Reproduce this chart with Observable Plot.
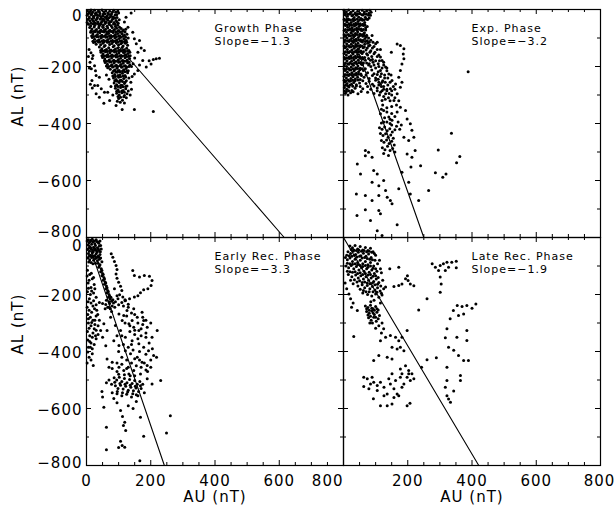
<!DOCTYPE html>
<html><head><meta charset="utf-8">
<script src="https://cdn.jsdelivr.net/npm/d3@7"></script>
<script src="https://cdn.jsdelivr.net/npm/@observablehq/plot@0.6"></script>
<style>
body{margin:0;background:#fff}
#chart svg text{letter-spacing:1px}
</style></head><body><div id="chart"></div>
<script>
// AU vs AL (nT) samples for each substorm phase, as [AU, AL] pairs
const growth = [
[3,-4],[8,-12],[14,-2],[19,-9],[25,-3],[31,-11],[37,-5],[42,-14],[48,-2],[54,-9],[60,-4],[66,-12],[72,-6],[78,-15],[85,-3],[91,-10],[97,-6],
[5,-15],[11,-7],[17,-14],[22,-28],[28,-13],[34,-20],[40,-8],[45,-30],[51,-22],[57,-15],[63,-31],[69,-17],[75,-25],[81,-9],[88,-30],[94,-18],[100,-12],
[2,-20],[9,-26],[15,-18],[22,-24],[28,-19],[34,-28],[40,-21],[46,-25],[52,-17],[58,-27],[64,-22],[70,-29],[76,-20],[83,-26],[89,-19],[95,-28],
[2,-46],[8,-31],[14,-48],[20,-39],[26,-47],[33,-32],[39,-52],[46,-46],[52,-33],[58,-44],[64,-34],[70,-48],[77,-42],[83,-32],[89,-52],[95,-44],[102,-36],
[4,-35],[11,-40],[17,-33],[23,-42],[30,-36],[36,-44],[43,-34],[49,-41],[55,-37],[61,-45],[67,-38],[73,-43],[80,-35],[86,-46],[92,-39],[99,-48],
[6,-52],[13,-57],[20,-50],[26,-55],[33,-49],[39,-58],[45,-51],[52,-55],[58,-49],[64,-59],[71,-53],[77,-57],[84,-51],[90,-60],[97,-55],[103,-62],
[10,-63],[17,-68],[24,-61],[31,-70],[38,-64],[45,-72],[52,-62],[59,-69],[66,-65],[73,-73],[80,-63],[87,-70],[94,-66],[101,-74],[108,-67],[115,-72],[122,-69],
[14,-75],[21,-77],[28,-74],[35,-78],[42,-75],[49,-77],[56,-74],[63,-78],[70,-75],[77,-77],[84,-74],[91,-78],[98,-75],[105,-80],[112,-76],[120,-79],
[13,-80],[20,-86],[27,-78],[34,-88],[41,-82],[48,-90],[55,-79],[62,-87],[69,-83],[76,-91],[83,-81],[90,-88],[97,-84],[104,-92],[111,-85],[118,-90],[126,-87],
[16,-93],[23,-95],[30,-92],[37,-96],[44,-93],[51,-95],[58,-92],[65,-96],[72,-93],[79,-95],[86,-92],[93,-96],[100,-93],[107,-97],[114,-94],[122,-97],
[18,-98],[25,-104],[32,-96],[39,-106],[46,-100],[53,-108],[60,-97],[67,-105],[74,-101],[81,-109],[88,-99],[95,-106],[102,-102],[109,-110],[116,-103],[123,-108],[130,-100],
[20,-111],[27,-113],[34,-110],[41,-114],[48,-111],[55,-113],[62,-110],[69,-114],[76,-111],[83,-113],[90,-110],[97,-114],[104,-111],[111,-116],[118,-112],[125,-115],
[22,-116],[30,-122],[37,-114],[44,-124],[51,-118],[58,-126],[65,-115],[72,-123],[79,-119],[86,-127],[93,-117],[100,-124],[107,-120],[114,-128],[121,-118],[128,-125],
[40,-132],[48,-138],[55,-130],[62,-140],[69,-134],[76,-142],[83,-131],[90,-139],[97,-135],[104,-143],[111,-133],[118,-141],[125,-136],[132,-144],
[44,-144],[51,-146],[58,-143],[65,-147],[72,-144],[79,-146],[86,-143],[93,-147],[100,-144],[107,-146],[114,-143],[121,-147],[128,-145],[135,-150],
[45,-150],[52,-156],[59,-148],[66,-158],[73,-152],[80,-160],[87,-149],[94,-157],[101,-153],[108,-161],[115,-151],[122,-159],[129,-154],[136,-162],
[48,-162],[55,-164],[62,-161],[69,-165],[76,-162],[83,-164],[90,-161],[97,-165],[104,-162],[111,-164],[118,-161],[125,-165],[132,-163],
[50,-168],[57,-174],[64,-166],[71,-176],[78,-170],[85,-178],[92,-167],[99,-175],[106,-171],[113,-179],[120,-169],[127,-177],[134,-172],
[56,-180],[63,-182],[70,-179],[77,-183],[84,-180],[91,-182],[98,-179],[105,-183],[112,-180],[119,-182],[126,-180],[133,-184],
[58,-186],[65,-192],[72,-184],[79,-194],[86,-188],[93,-196],[100,-185],[107,-193],[114,-189],[121,-197],[128,-187],[135,-194],
[62,-198],[69,-200],[76,-197],[83,-201],[90,-198],[97,-200],[104,-197],[111,-201],[118,-198],[125,-202],[132,-200],
[66,-204],[74,-210],[81,-202],[88,-212],[95,-206],[102,-214],[109,-203],[116,-211],[123,-207],[130,-215],
[84,-216],[91,-218],[98,-215],[105,-219],[112,-216],[119,-218],[126,-216],
[8,-140],[14,-152],[6,-165],[18,-172],[11,-185],[20,-161],[15,-208],[25,-197],[30,-232],[17,-249],[40,-238],[35,-267],[25,-267],[46,-278],[30,-296],[56,-290],[40,-308],[54,-329],[72,-319],[66,-290],[9,-205],[28,-215],[12,-262],[18,-275],
[80,-222],[88,-228],[96,-220],[104,-230],[112,-224],[120,-232],[128,-222],[84,-240],[92,-246],[100,-238],[108,-248],[116,-242],[124,-250],[132,-240],
[82,-233],[90,-235],[98,-232],[106,-236],[114,-233],[122,-237],[88,-250],[96,-252],[104,-249],[112,-253],[120,-255],[90,-268],[98,-270],[106,-267],[114,-271],[122,-270],
[86,-258],[94,-264],[102,-256],[110,-266],[118,-260],[126,-268],[90,-276],[98,-282],[106,-274],[114,-284],[122,-278],[130,-286],
[94,-287],[102,-289],[110,-286],[118,-290],[98,-305],[106,-308],[116,-306],[105,-325],[118,-328],[96,-322],
[94,-294],[102,-300],[110,-292],[118,-302],[126,-296],[100,-312],[112,-318],[124,-310],[111,-351],[92,-337],[82,-300],[76,-270],[70,-245],[62,-230],
[139,-12],[123,-27],[118,-44],[129,-62],[144,-80],[149,-103],[165,-109],[155,-120],[180,-144],[170,-135],[160,-150],[175,-179],[217,-173],[227,-171],
[201,-191],[186,-202],[160,-214],[149,-226],[145,-190],[150,-170],[140,-200],[195,-180],[208,-175],[165,-195],[142,-235],[138,-255],[140,-280],[136,-300],
[149,-351],[208,-358]
];
const expansion = [
[2,-3],[9,-8],[16,-2],[23,-10],[30,-4],[37,-12],[44,-6],[51,-14],[58,-3],[65,-9],[72,-5],[79,-13],[82,-3],[86,-10],[84,-20],[80,-30],
[6,-15],[14,-17],[21,-14],[29,-18],[36,-15],[43,-17],[50,-14],[57,-18],[64,-15],[71,-17],[78,-20],
[5,-18],[12,-24],[19,-16],[26,-22],[33,-28],[40,-20],[47,-26],[54,-32],[61,-19],[68,-27],[75,-35],
[2,-34],[8,-36],[15,-33],[22,-37],[29,-34],[36,-36],[43,-33],[50,-37],[57,-34],[64,-36],[71,-33],
[3,-38],[10,-44],[17,-36],[24,-46],[31,-40],[38,-48],[45,-42],[52,-50],[59,-38],[66,-46],
[4,-52],[11,-54],[18,-51],[25,-55],[32,-52],[39,-54],[46,-51],[53,-55],[60,-52],[67,-54],[74,-60],
[6,-56],[13,-62],[20,-54],[27,-64],[34,-58],[41,-66],[48,-60],[55,-68],[62,-56],[69,-64],
[6,-70],[13,-72],[20,-69],[27,-73],[34,-70],[41,-72],[48,-69],[55,-73],[62,-70],[69,-72],
[2,-74],[9,-80],[16,-72],[23,-82],[30,-76],[37,-84],[44,-78],[51,-86],[58,-74],[65,-82],[72,-90],
[2,-89],[8,-91],[15,-88],[22,-92],[29,-89],[36,-91],[43,-88],[50,-92],[57,-89],[64,-91],[71,-96],
[4,-94],[11,-100],[18,-92],[25,-102],[32,-96],[39,-104],[46,-98],[53,-106],[60,-94],[67,-102],[74,-110],
[5,-108],[12,-110],[19,-107],[26,-111],[33,-108],[40,-110],[47,-107],[54,-111],[61,-108],[68,-112],[80,-115],
[3,-114],[10,-120],[17,-112],[24,-122],[31,-116],[38,-124],[45,-118],[52,-126],[59,-114],[66,-122],[78,-128],
[2,-128],[9,-130],[16,-127],[23,-131],[30,-128],[37,-130],[44,-127],[51,-131],[58,-128],[65,-132],[74,-135],
[5,-134],[12,-140],[19,-132],[26,-142],[33,-136],[40,-144],[47,-138],[54,-146],[61,-134],[70,-142],[82,-150],
[6,-148],[13,-150],[20,-147],[27,-151],[34,-148],[41,-150],[48,-147],[55,-151],[62,-148],[72,-155],
[2,-154],[9,-160],[16,-152],[23,-162],[30,-156],[37,-164],[44,-158],[51,-166],[58,-154],[66,-168],[78,-172],[88,-165],
[3,-168],[10,-170],[17,-167],[24,-171],[31,-168],[38,-170],[45,-167],[52,-171],[59,-168],[68,-178],[84,-178],
[4,-174],[11,-180],[18,-172],[25,-182],[32,-176],[39,-184],[46,-178],[53,-186],[60,-174],[72,-188],[92,-185],
[6,-188],[13,-190],[20,-187],[27,-191],[34,-188],[41,-190],[48,-187],[55,-191],[62,-188],[78,-195],
[3,-194],[10,-200],[17,-192],[24,-202],[31,-196],[38,-204],[45,-198],[52,-206],[59,-194],[68,-208],[85,-200],[100,-205],
[2,-208],[9,-210],[16,-207],[23,-211],[30,-208],[37,-210],[44,-207],[51,-211],[58,-208],[88,-212],
[5,-214],[12,-220],[19,-212],[26,-222],[33,-216],[40,-224],[47,-218],[54,-226],[62,-214],[75,-222],[95,-225],[108,-218],
[5,-228],[12,-230],[19,-227],[26,-231],[33,-228],[40,-230],[47,-227],[56,-232],[70,-230],[90,-232],[105,-228],
[2,-234],[9,-240],[16,-232],[23,-242],[30,-236],[37,-244],[44,-238],[52,-246],[64,-238],[80,-242],[100,-240],[115,-235],
[2,-248],[8,-250],[15,-247],[22,-251],[29,-248],[36,-250],[45,-247],[60,-250],[80,-252],[100,-248],
[4,-254],[11,-260],[18,-252],[25,-262],[32,-256],[40,-264],[50,-258],[70,-260],[90,-262],[110,-255],[122,-250],
[6,-266],[13,-268],[20,-265],[29,-269],[40,-268],[52,-270],[75,-270],[95,-268],[115,-262],
[3,-274],[10,-280],[17,-272],[26,-284],[36,-276],[60,-278],[85,-280],[105,-275],[125,-270],[6,-294],[14,-300],[22,-292],[45,-296],[95,-295],[115,-290],[135,-285],
[3,-286],[9,-288],[16,-285],[30,-289],[55,-288],[75,-290],[105,-285],[125,-280],
[63,-85],[89,-91],[105,-115],[95,-130],[115,-140],[110,-160],[115,-167],[125,-185],[131,-202],[115,-214],[141,-226],[151,-249],[162,-261],[146,-278],[131,-296],
[120,-319],[167,-296],[157,-319],[128,-240],[138,-265],[118,-270],[150,-300],[140,-310],[125,-305],[98,-150],[108,-190],[120,-205],[135,-215],[148,-230],[130,-255],
[70,-95],[78,-100],[85,-108],[92,-115],[100,-120],[75,-118],[82,-125],[90,-135],[105,-140],[85,-145],[95,-155],[105,-165],[75,-160],[90,-175],[100,-180],[112,-180],
[80,-190],[95,-195],[110,-200],[125,-195],[135,-205],[118,-225],[128,-230],[138,-240],[108,-245],[120,-255],[145,-255],[155,-270],[110,-265],[135,-280],[150,-285],
[160,-280],[120,-285],[142,-295],[130,-315],[145,-320],[112,-300],[160,-310],[172,-320],[165,-335],[150,-340],[135,-345],[122,-335],[118,-350],[135,-360],[150,-365],
[160,-375],[128,-380],[145,-385],[170,-395],[180,-405],[125,-395],[150,-405],[165,-410],[175,-420],
[167,-121],[177,-126],[188,-138],[186,-156],[188,-173],[182,-191],[177,-214],[172,-238],[182,-255],[177,-273],[149,-150],[120,-179],
[115,-366],[125,-354],[141,-377],[151,-389],[167,-360],[177,-343],[193,-354],[198,-384],[208,-401],[213,-424],[219,-448],[203,-460],[188,-448],[223,-495],[213,-518],[198,-507],
[112,-415],[120,-420],[128,-412],[136,-425],[144,-418],[152,-430],[160,-422],[115,-435],[123,-442],[131,-436],[139,-448],[147,-440],[155,-452],
[118,-460],[126,-466],[134,-458],[142,-470],[150,-462],[158,-475],[121,-485],[129,-492],[137,-480],[145,-495],[153,-488],[125,-505],[140,-512],[160,-500],[135,-395],[145,-400],[118,-398],
[43,-542],[53,-577],[68,-513],[78,-501],[89,-518],[68,-495],[94,-565],[105,-577],[89,-606],[125,-600],[110,-618],[131,-635],
[40,-647],[68,-653],[89,-670],[110,-653],[136,-659],[151,-682],[68,-703],[84,-740],[110,-705],[115,-717],[42,-723],[105,-776],[120,-793],[167,-755],[208,-647],[203,-606],[182,-571],[172,-629],[146,-670],
[388,-218],[336,-434],[295,-493],[362,-516],[352,-538],[319,-577],[309,-589],[286,-573],[265,-635],[234,-670],[210,-553],[240,-548]
];
const earlyRecovery = [
[2,-12],[8,-18],[14,-10],[20,-16],[26,-22],[32,-14],[38,-20],[44,-28],[4,-26],[10,-32],[16,-24],[22,-34],[28,-28],[34,-36],[40,-30],[46,-40],
[6,-8],[12,-14],[18,-6],[24,-12],[30,-8],[36,-16],[42,-12],[7,-38],[13,-36],[19,-44],[25,-38],[31,-46],[37,-40],[43,-50],
[3,-42],[9,-48],[15,-40],[21,-50],[27,-44],[33,-52],[39,-46],[6,-56],[12,-62],[18,-54],[24,-64],[30,-58],[36,-66],[42,-60],[4,-72],[10,-78],[16,-70],[22,-80],[28,-74],[34,-82],[40,-76],[48,-85],
[8,-66],[14,-64],[20,-68],[26,-66],[32,-70],[38,-68],[44,-72],[7,-86],[14,-88],[20,-92],[28,-90],
[36,-90],[42,-96],[38,-104],[46,-110],[44,-120],[50,-126],[48,-134],[54,-140],[52,-150],[58,-156],[56,-164],[62,-170],[60,-180],[66,-186],[64,-194],[70,-200],[68,-210],[74,-216],[78,-224],[72,-232],[80,-240],[84,-230],[62,-220],[66,-245],[58,-250],
[40,-100],[48,-116],[52,-130],[56,-146],[60,-160],[64,-176],[68,-190],[72,-205],[76,-210],[82,-218],[70,-225],[60,-235],[74,-250],[88,-245],[78,-260],
[77,-57],[82,-69],[87,-84],[92,-98],[95,-112],[92,-128],[95,-143],[100,-157],[106,-171],[110,-186],[103,-201],[113,-209],[98,-215],[87,-180],
[144,-116],[149,-133],[165,-139],[180,-133],[196,-136],[204,-151],[201,-168],[191,-180],[178,-183],[168,-194],[160,-204],[149,-209],[134,-215],[120,-218],
[5,-225],[14,-230],[22,-222],[30,-236],[40,-228],[50,-232],[90,-225],[100,-236],[110,-228],[120,-222],[130,-234],
[3,-115],[10,-130],[18,-145],[5,-160],[14,-175],[24,-165],[3,-190],[12,-200],[22,-195],[30,-210],[2,-245],[8,-255],[16,-262],[25,-250],[4,-270],[12,-280],[20,-290],[30,-275],
[6,-300],[14,-310],[26,-305],[3,-330],[10,-345],[20,-335],[30,-325],[4,-360],[14,-370],[18,-390],[4,-402],[21,-449],[18,-408],[8,-420],[12,-385],[35,-270],[40,-290],
[2,-135],[8,-150],[15,-125],[22,-140],[6,-178],[16,-188],[26,-180],[9,-215],[20,-240],[32,-255],[6,-285],[16,-298],[26,-290],[36,-310],[8,-318],[18,-350],[28,-345],
[10,-365],[24,-375],[6,-385],[14,-430],[2,-440],[30,-355],[36,-340],[24,-320],
[95,-204],[121,-221],[126,-256],[147,-250],[158,-280],[173,-262],[178,-291],[189,-315],[204,-350],[220,-326],[111,-291],[132,-303],[147,-315],[163,-326],[106,-326],[121,-350],
[142,-362],[163,-373],[178,-385],[193,-397],[209,-414],[218,-420],[85,-362],[101,-379],[121,-397],[137,-408],[158,-420],[173,-438],[189,-449],[64,-426],[80,-438],[101,-455],
[116,-467],[132,-479],[147,-467],[168,-479],[189,-496],[204,-514],[44,-326],[64,-326],[54,-303],[75,-280],[69,-245],[90,-309],[101,-268],[116,-274],[142,-291],
[115,-240],[130,-245],[140,-265],[125,-275],[150,-270],[160,-300],[175,-305],[185,-335],[170,-345],[150,-340],[135,-330],[110,-345],[95,-345],[130,-385],[145,-395],
[165,-400],[185,-410],[200,-430],[110,-420],[125,-430],[140,-440],[155,-450],[170,-455],[185,-465],[95,-440],[80,-460],[70,-455],[130,-455],[60,-380],[50,-350],
[120,-300],[135,-310],[150,-325],[170,-320],[185,-350],[195,-370],[160,-355],[140,-375],[115,-375],[100,-400],[150,-425],[165,-430],[180,-440],[110,-445],[125,-460],
[95,-470],[205,-390],[175,-280],[185,-290],[200,-300],
[86,-492],[94,-500],[102,-490],[110,-505],[118,-495],[126,-510],[134,-498],[142,-512],[150,-502],[158,-515],[166,-505],[90,-520],[98,-530],[106,-518],[114,-532],[122,-522],
[130,-536],[138,-525],[146,-538],[154,-528],[162,-540],[95,-548],[110,-555],[125,-550],[140,-560],[155,-552],[70,-500],[78,-515],[62,-510],[80,-545],[170,-530],[180,-545],[175,-515],
[88,-508],[104,-512],[120,-515],[136,-518],[152,-522],[168,-520],[96,-540],[112,-545],[128,-542],[144,-548],[160,-555],[100,-480],[118,-482],[136,-485],[150,-485],
[54,-596],[62,-666],[62,-745],[106,-607],[119,-648],[122,-677],[106,-715],[111,-730],[119,-736],[168,-631],[178,-697],[166,-783],[249,-686],[261,-625],[231,-502],
[130,-590],[145,-600],[95,-580],[85,-565],[155,-575],[112,-628],[115,-660],[100,-737],[190,-470],[200,-455],[50,-560],[48,-540]
];
const lateRecovery = [
[20,-30],[28,-36],[36,-28],[44,-40],[52,-32],[60,-44],[68,-35],[76,-46],[84,-38],[92,-50],[14,-50],[22,-56],[30,-48],[38,-60],[46,-52],[54,-64],[62,-55],[70,-66],[78,-58],[86,-70],[100,-62],
[24,-42],[32,-44],[40,-46],[48,-44],[56,-48],[64,-46],[72,-50],[80,-48],[88,-52],[96,-56],
[10,-62],[18,-64],[26,-66],[34,-62],[42,-68],[50,-66],[58,-72],[66,-70],[74,-74],[82,-76],[90,-78],[98,-80],
[6,-70],[12,-78],[20,-72],[28,-84],[36,-76],[44,-88],[52,-80],[60,-92],[68,-84],[76,-96],[84,-88],[94,-100],[106,-92],[112,-80],
[12,-90],[20,-92],[28,-94],[36,-92],[44,-96],[52,-98],[60,-102],[68,-98],[76,-104],[84,-100],[92,-108],[100,-110],
[8,-100],[16,-106],[24,-98],[32,-110],[40,-102],[48,-114],[56,-106],[64,-118],[72,-110],[80,-122],[88,-114],[96,-126],[104,-118],[118,-124],
[12,-118],[20,-120],[28,-122],[36,-120],[44,-126],[52,-124],[60,-130],[68,-126],[76,-132],[84,-130],[92,-136],[100,-134],[108,-140],
[15,-130],[26,-138],[38,-132],[46,-142],[54,-134],[62,-146],[70,-138],[78,-150],[86,-142],[94,-154],[102,-146],[110,-158],[122,-150],
[22,-150],[34,-148],[42,-156],[50,-152],[58,-158],[66,-156],[74,-160],[82,-162],[90,-160],[98,-166],[106,-164],[116,-170],
[30,-162],[45,-170],[58,-166],[66,-176],[74,-168],[82,-180],[90,-172],[98,-184],[106,-176],[114,-188],[125,-180],[60,-195],[75,-200],[88,-205],[100,-198],[110,-210],[120,-202],
[52,-182],[62,-186],[70,-190],[80,-190],[92,-190],[104,-192],[118,-196],
[17,-198],[22,-215],[30,-230],[25,-245],[43,-256],[32,-347],[10,-180],[5,-160],
[68,-240],[76,-246],[84,-238],[92,-250],[100,-242],[108,-254],[72,-260],[80,-266],[88,-258],[96,-270],[104,-262],[112,-274],[78,-282],[86,-290],[94,-280],[102,-294],
[72,-250],[80,-255],[88,-248],[96,-255],[104,-250],[76,-272],[84,-276],[92,-265],[100,-280],[108,-285],[90,-300],[82,-300],
[85,-225],[95,-220],[115,-230],[120,-300],[110,-310],[100,-318],[125,-320],[118,-335],
[115,-110],[144,-110],[172,-104],[157,-172],[172,-168],[182,-163],[193,-145],[201,-151],[208,-163],[219,-169],[199,-134],[131,-174],
[276,-92],[286,-104],[296,-116],[301,-98],[311,-92],[322,-87],[327,-104],[317,-116],[337,-87],[351,-83],[351,-106],[301,-139],[304,-163],[301,-192],[260,-215],[234,-254],
[354,-239],[369,-242],[384,-239],[400,-248],[412,-233],[342,-256],[358,-274],[374,-268],[332,-285],[322,-320],[384,-326],[317,-352],[327,-385],[343,-396],[358,-414],[374,-432],
[389,-432],[384,-361],[353,-350],[260,-429],[289,-422],[322,-455],[364,-484],[364,-502],[343,-539],[322,-502],[317,-525],[322,-555],[333,-578],[327,-567],[243,-455],
[115,-362],[131,-350],[146,-344],[162,-350],[172,-362],[182,-350],[198,-326],[151,-385],[167,-391],[177,-385],[188,-397],[136,-420],[151,-426],[94,-432],[110,-414],
[177,-461],[193,-450],[203,-467],[213,-478],[182,-478],[219,-496],
[63,-490],[74,-496],[84,-514],[63,-523],[79,-531],[94,-508],[105,-519],[115,-508],[126,-525],[141,-496],[151,-478],[146,-514],[136,-549],[157,-531],[167,-549],[182,-525],
[188,-514],[198,-490],[203,-478],[208,-502],[93,-566],[115,-590],[136,-590],[151,-584],[172,-555],[198,-590],[207,-582],[157,-561],[126,-555],[105,-537],[89,-490],[162,-502],[177,-490]
];

const phaseNames = ["Growth Phase", "Exp. Phase", "Early Rec. Phase", "Late Rec. Phase"];
const slopes = [-1.3, -3.2, -3.3, -1.9];
const samples = [growth, expansion, earlyRecovery, lateRecovery];

const xTicks = [0, 200, 400, 600, 800];
const yTicks = [0, -200, -400, -600, -800];
const xMinorStep = 50, yMinorStep = 100;

const auDomain = [0, 800], alDomain = [-800, 0];

// one panel per phase: two columns, two rows
const phases = phaseNames.map((name, i) => ({name, slope: slopes[i], fx: i % 2, fy: Math.floor(i / 2)}));
const points = samples.flatMap((pts, i) => pts.map(([au, al]) => ({au, al, fx: phases[i].fx, fy: phases[i].fy})));
// fitted line AL = slope * AU, from the origin to the bottom of the panel
const fits = phases.flatMap(p => [
  {phase: p.name, fx: p.fx, fy: p.fy, au: 0, al: 0},
  {phase: p.name, fx: p.fx, fy: p.fy, au: alDomain[0] / p.slope, al: alDomain[0]}
]);

const width = 614, height = 518;
const mL = 86, mR = 14, mT = 9, mB = 53;
const panelW = (width - mL - mR) / 2, panelH = (height - mT - mB) / 2;

const xMinor = d3.range(auDomain[0], auDomain[1] + 1, xMinorStep);
const yMinor = d3.range(alDomain[0], alDomain[1] + 1, yMinorStep);
const isMajor = (v) => v % 200 === 0;
const majorLen = 5, minorLen = 3;

const fmt = d3.format("d");
const slopeFmt = d3.format(".1f");

// inward tick marks on all four sides of every panel
function tickMarks(len, xs, ys) {
  return [
    Plot.ruleX(xs, {x: d => d, insetTop: panelH - len, stroke: "black"}),
    Plot.ruleX(xs, {x: d => d, insetBottom: panelH - len, stroke: "black"}),
    Plot.ruleY(ys, {y: d => d, insetRight: panelW - len, stroke: "black"}),
    Plot.ruleY(ys, {y: d => d, insetLeft: panelW - len, stroke: "black"})
  ];
}

// y tick labels on the left column, nudged where neighbouring panels meet
const yLabelData = [0, 1].flatMap(fy => yTicks.map(v => ({fx: 0, fy, v})));
function yLabels(filter, dy) {
  return Plot.text(yLabelData.filter(filter), {
    fx: "fx", fy: "fy", y: "v", frameAnchor: "left", textAnchor: "end",
    dx: -4, dy, text: d => fmt(d.v), fontSize: 15
  });
}
const xLabelData = [0, 1].flatMap(fx => xTicks.map(v => ({fx, fy: 1, v})))
  .filter(d => !(d.fx === 1 && d.v === 0));
function xLabels(filter, options) {
  return Plot.text(xLabelData.filter(filter), {
    fx: "fx", fy: "fy", x: "v", frameAnchor: "bottom", dy: 20,
    text: d => fmt(d.v), fontSize: 15, ...options
  });
}

const chart = Plot.plot({
  width, height,
  marginLeft: mL, marginRight: mR, marginTop: mT, marginBottom: mB,
  style: {fontFamily: "DejaVu Sans", fontSize: "15px", background: "white", color: "black"},
  x: {domain: auDomain, axis: null},
  y: {domain: alDomain, axis: null},
  fx: {domain: [0, 1], axis: null, padding: 0},
  fy: {domain: [0, 1], axis: null, padding: 0},
  marks: [
    ...tickMarks(minorLen, xMinor.filter(v => !isMajor(v)), yMinor.filter(v => !isMajor(v))),
    ...tickMarks(majorLen, xMinor.filter(isMajor), yMinor.filter(isMajor)),
    Plot.line(fits, {x: "au", y: "al", z: "phase", fx: "fx", fy: "fy", stroke: "black", strokeWidth: 1.1}),
    Plot.dot(points, {x: "au", y: "al", fx: "fx", fy: "fy", r: 1.5, fill: "black"}),
    Plot.frame({stroke: "black", strokeWidth: 1.2}),
    Plot.text(phases, {
      fx: "fx", fy: "fy", frameAnchor: "top-left", textAnchor: "start", lineAnchor: "top",
      dx: 128, dy: 14, fontSize: 11, lineHeight: 1.15,
      text: d => `${d.name}\nSlope=${slopeFmt(d.slope)}`
    }),
    yLabels(d => d.fy === 0 && d.v === 0, 6.5),
    yLabels(d => d.fy === 0 && d.v !== 0 && d.v !== -800, 2),
    yLabels(d => d.fy === 0 && d.v === -800, -5),
    yLabels(d => d.fy === 1 && d.v === 0, 8.5),
    yLabels(d => d.fy === 1 && d.v !== 0 && d.v !== -800, 2),
    yLabels(d => d.fy === 1 && d.v === -800, -2),
    xLabels(d => !(d.fx === 0 && d.v === 800) && !(d.fx === 1 && d.v === 800), {}),
    xLabels(d => d.fx === 0 && d.v === 800, {textAnchor: "end", dx: 0}),
    xLabels(d => d.fx === 1 && d.v === 800, {dx: -1}),
    Plot.text([{fx: 0, fy: 0}, {fx: 0, fy: 1}], {
      fx: "fx", fy: "fy", frameAnchor: "left", dx: -68, dy: 3, rotate: -90,
      text: () => "AL (nT)", fontSize: 15
    }),
    Plot.text([{fx: 0, fy: 1}, {fx: 1, fy: 1}], {
      fx: "fx", fy: "fy", frameAnchor: "bottom", dy: 36,
      text: () => "AU (nT)", fontSize: 15
    })
  ]
});
document.getElementById("chart").append(chart);
</script></body></html>
